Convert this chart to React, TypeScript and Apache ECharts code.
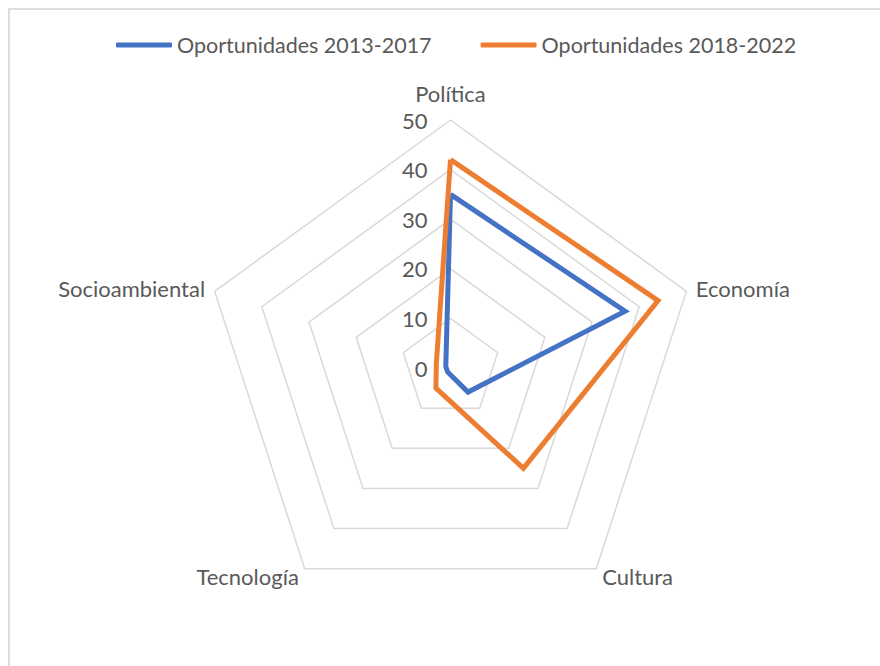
import React, { useEffect, useRef } from "react";
import * as echarts from "echarts";

const indicatorNames = ["Política", "Socioambiental", "Tecnología", "Cultura", "Economía"];
const indicatorMax = 50;
const series2013 = [35, 1, 1, 6, 37];
const series2018 = [42, 3, 5, 25, 44];
const seriesNames = ["Oportunidades 2013-2017", "Oportunidades 2018-2022"];
const seriesColors = ["#4472C4", "#ED7D31"];

const FONT = "Lato";
const TEXT = "#595959";

export default function App() {
  const ref = useRef<HTMLDivElement>(null);
  useEffect(() => {
    if (!ref.current) return;
    const chart = echarts.init(ref.current, undefined, { renderer: "svg" });
    chart.setOption({
      animation: false,
      textStyle: { fontFamily: FONT, color: TEXT },
      legend: {
        left: 116,
        top: 32,
        padding: 0,
        itemGap: 49,
        itemWidth: 56,
        itemHeight: 5,
        icon: "roundRect",
        data: seriesNames,
        textStyle: { fontFamily: FONT, fontSize: 21.5, color: TEXT, lineHeight: 26 },
      },
      radar: {
        center: [450.5, 368],
        radius: 248,
        startAngle: 90,
        splitNumber: 5,
        shape: "polygon",
        nameGap: 10,
        axisName: { color: TEXT, fontFamily: FONT, fontSize: 22 },
        axisLine: { show: false },
        axisTick: { show: false },
        splitArea: { show: false },
        splitLine: { lineStyle: { color: "#D9D9D9", width: 1.5 } },
        axisLabel: { show: false },
        indicator: indicatorNames.map((name, i) =>
          i === 0
            ? {
                name,
                max: indicatorMax,
                min: 0,
                nameGap: 16,
                axisLabel: {
                  show: true,
                  margin: 23,
                  color: TEXT,
                  fontFamily: FONT,
                  fontSize: 22,
                },
              }
            : { name, max: indicatorMax, min: 0 }
        ),
      },
      series: [
        {
          type: "radar",
          symbol: "none",
          data: [
            {
              name: seriesNames[0],
              value: series2013,
              itemStyle: { color: seriesColors[0] },
              lineStyle: { color: seriesColors[0], width: 5, join: "miter" },
            },
            {
              name: seriesNames[1],
              value: series2018,
              itemStyle: { color: seriesColors[1] },
              lineStyle: { color: seriesColors[1], width: 5, join: "miter" },
            },
          ],
        },
      ],
    });
    return () => chart.dispose();
  }, []);
  return (
    <>
      <div
        style={{
          position: "absolute",
          left: 8,
          top: 8,
          width: 872,
          height: 658,
          boxSizing: "border-box",
          borderLeft: "2px solid #dedede",
          borderTop: "2px solid #dedede",
        }}
      />
      <div
        ref={ref}
        style={{ position: "absolute", left: 0, top: 0, width: 880, height: 666 }}
      />
    </>
  );
}
